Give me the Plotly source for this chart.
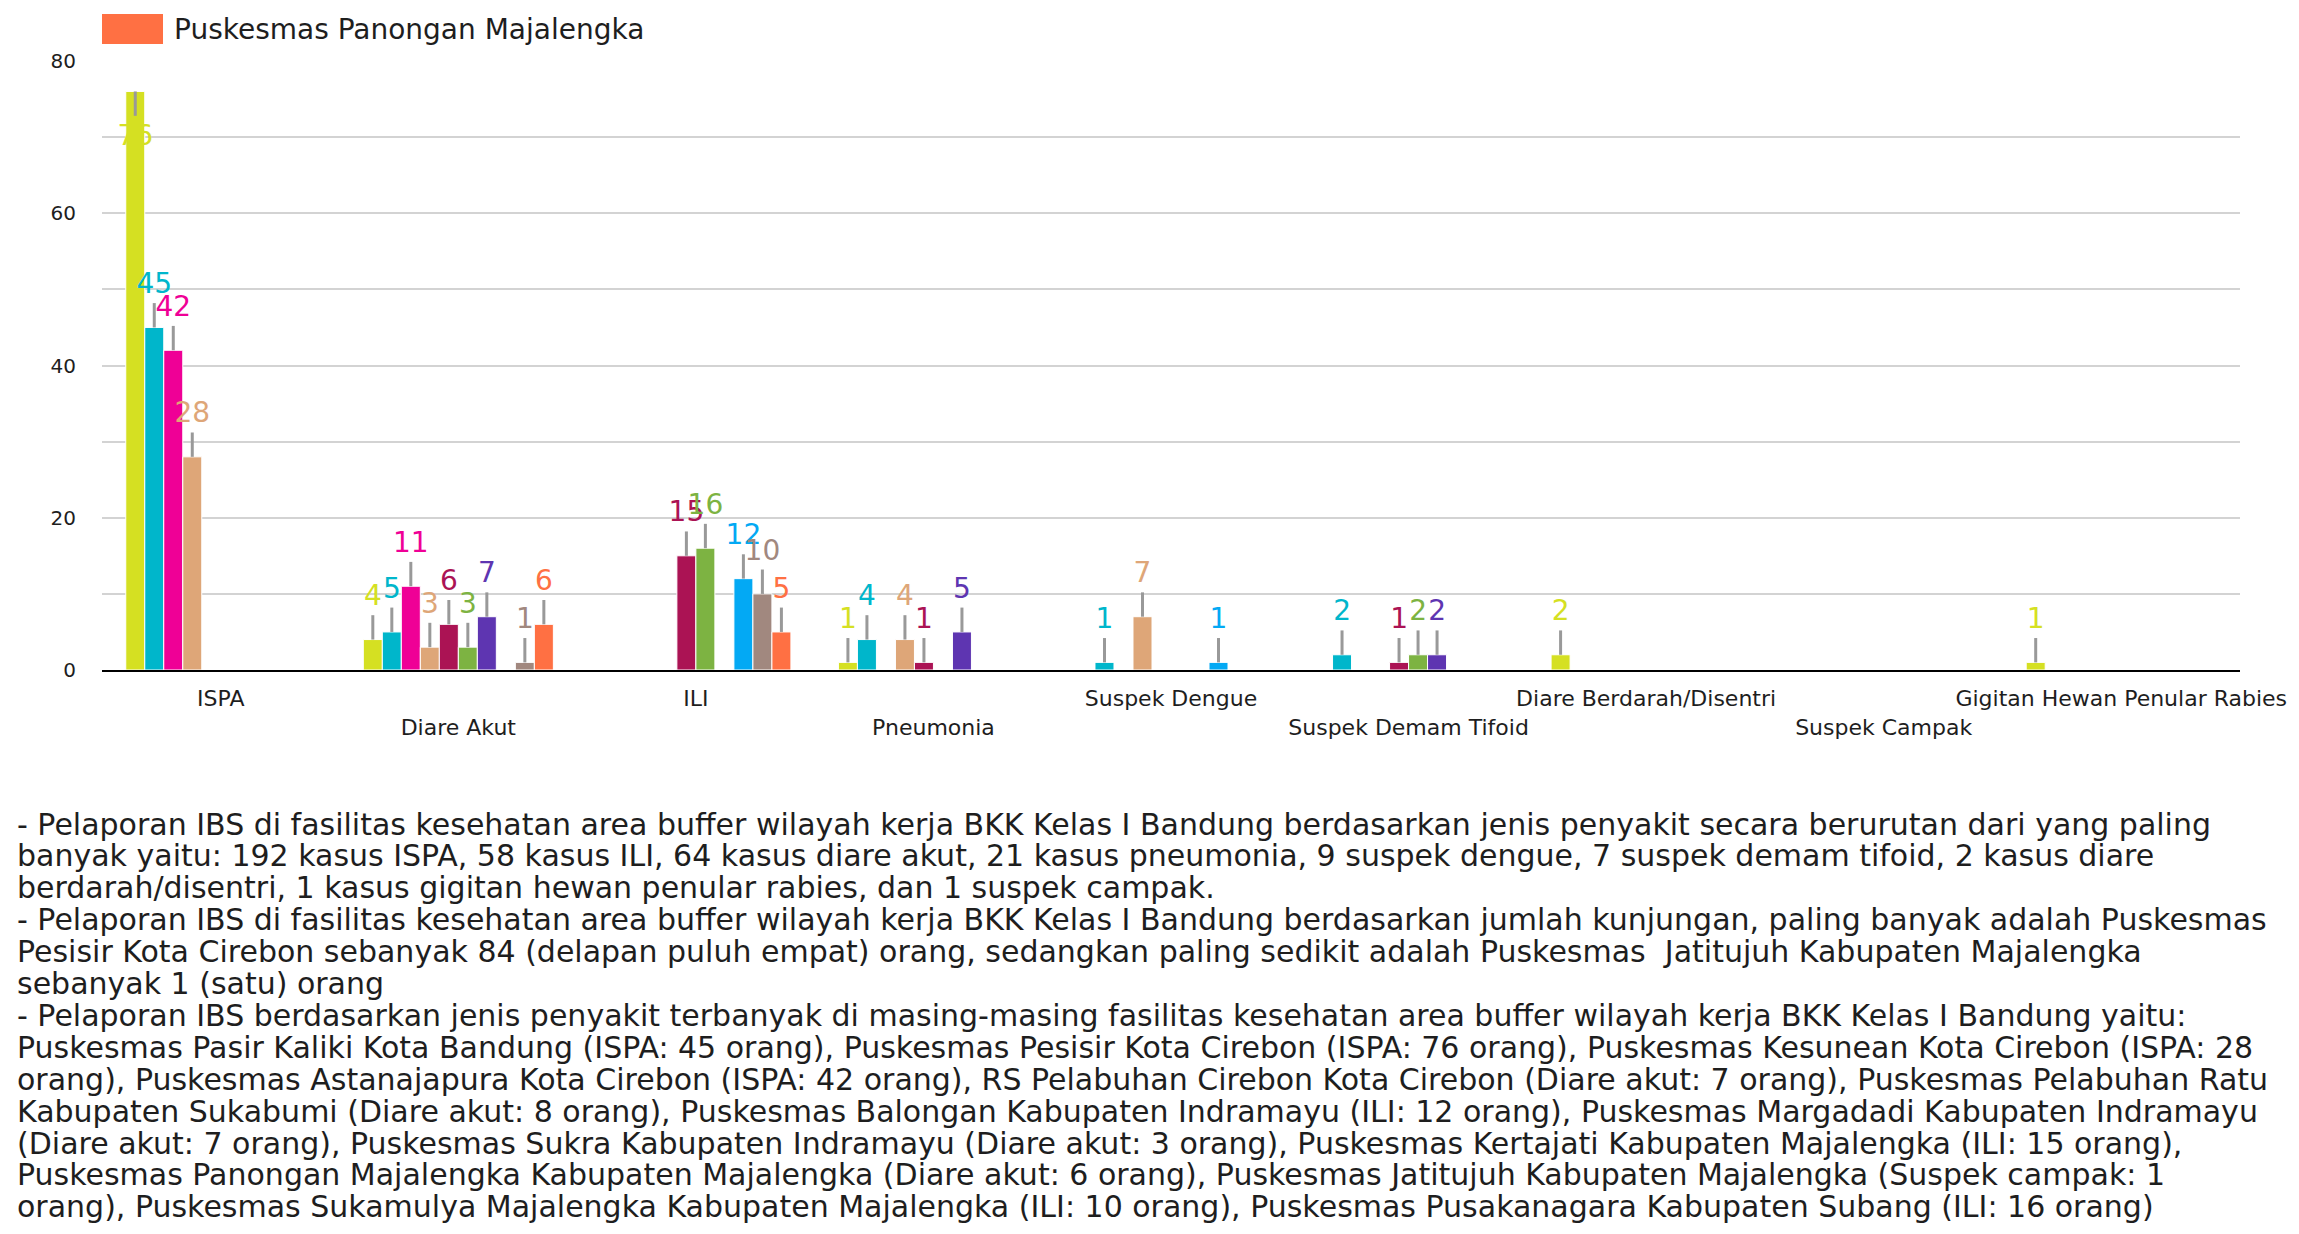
import plotly.graph_objects as go

# ---------------- data ----------------
categories = [
    "ISPA", "Diare Akut", "ILI", "Pneumonia", "Suspek Dengue",
    "Suspek Demam Tifoid", "Diare Berdarah/Disentri", "Suspek Campak",
    "Gigitan Hewan Penular Rabies",
]

series_names = [
    "Puskesmas Pesisir Kota Cirebon",
    "Puskesmas Pasir Kaliki Kota Bandung",
    "Puskesmas Astanajapura Kota Cirebon",
    "Puskesmas Kesunean Kota Cirebon",
    "Puskesmas Kertajati Kabupaten Majalengka",
    "Puskesmas Pusakanagara Kabupaten Subang",
    "RS Pelabuhan Cirebon Kota Cirebon",
    "Puskesmas Balongan Kabupaten Indramayu",
    "Puskesmas Sukamulya Majalengka",
    "Puskesmas Panongan Majalengka",
]

pesisir      = [76, 4, 0, 1, 0, 0, 2, 0, 1]
pasir_kaliki = [45, 5, 0, 4, 1, 2, 0, 0, 0]
astanajapura = [42, 11, 0, 0, 0, 0, 0, 0, 0]
kesunean     = [28, 3, 0, 4, 7, 0, 0, 0, 0]
kertajati    = [0, 6, 15, 1, 0, 1, 0, 0, 0]
pusakanagara = [0, 3, 16, 0, 0, 2, 0, 0, 0]
rs_pelabuhan = [0, 7, 0, 5, 0, 2, 0, 0, 0]
balongan     = [0, 0, 12, 0, 1, 0, 0, 0, 0]
sukamulya    = [0, 1, 10, 0, 0, 0, 0, 0, 0]
panongan     = [0, 6, 5, 0, 0, 0, 0, 0, 0]

series_values = [pesisir, pasir_kaliki, astanajapura, kesunean, kertajati,
                 pusakanagara, rs_pelabuhan, balongan, sukamulya, panongan]

series_colors = ["#d5e022", "#00b6cb", "#ef0096", "#dea678", "#ab1354",
                 "#7db342", "#5e35b1", "#03a9f4", "#a1887f", "#ff7043"]

y_ticks = [0, 20, 40, 60, 80]

legend_label = "Puskesmas Panongan Majalengka"

notes = [
    "- Pelaporan IBS di fasilitas kesehatan area buffer wilayah kerja BKK Kelas I Bandung berdasarkan jenis penyakit secara berurutan dari yang paling",
    "banyak yaitu: 192 kasus ISPA, 58 kasus ILI, 64 kasus diare akut, 21 kasus pneumonia, 9 suspek dengue, 7 suspek demam tifoid, 2 kasus diare",
    "berdarah/disentri, 1 kasus gigitan hewan penular rabies, dan 1 suspek campak.",
    "- Pelaporan IBS di fasilitas kesehatan area buffer wilayah kerja BKK Kelas I Bandung berdasarkan jumlah kunjungan, paling banyak adalah Puskesmas",
    "Pesisir Kota Cirebon sebanyak 84 (delapan puluh empat) orang, sedangkan paling sedikit adalah Puskesmas  Jatitujuh Kabupaten Majalengka",
    "sebanyak 1 (satu) orang",
    "- Pelaporan IBS berdasarkan jenis penyakit terbanyak di masing-masing fasilitas kesehatan area buffer wilayah kerja BKK Kelas I Bandung yaitu:",
    "Puskesmas Pasir Kaliki Kota Bandung (ISPA: 45 orang), Puskesmas Pesisir Kota Cirebon (ISPA: 76 orang), Puskesmas Kesunean Kota Cirebon (ISPA: 28",
    "orang), Puskesmas Astanajapura Kota Cirebon (ISPA: 42 orang), RS Pelabuhan Cirebon Kota Cirebon (Diare akut: 7 orang), Puskesmas Pelabuhan Ratu",
    "Kabupaten Sukabumi (Diare akut: 8 orang), Puskesmas Balongan Kabupaten Indramayu (ILI: 12 orang), Puskesmas Margadadi Kabupaten Indramayu",
    "(Diare akut: 7 orang), Puskesmas Sukra Kabupaten Indramayu (Diare akut: 3 orang), Puskesmas Kertajati Kabupaten Majalengka (ILI: 15 orang),",
    "Puskesmas Panongan Majalengka Kabupaten Majalengka (Diare akut: 6 orang), Puskesmas Jatitujuh Kabupaten Majalengka (Suspek campak: 1",
    "orang), Puskesmas Sukamulya Majalengka Kabupaten Majalengka (ILI: 10 orang), Puskesmas Pusakanagara Kabupaten Subang (ILI: 16 orang)",
]

# ---------------- style / layout constants ----------------
FONT = "DejaVu Sans"
TEXT_COLOR = "#1e1e1e"
W, H = 2299, 1234
PL, PR, PT, PB = 102, 2240, 61, 670          # plot area in pixels
Y_MAX = 80
LEAD = 3.2                                    # leader line length (data units)
LABEL_ROOM = 4.0


def paper_x(px):
    return (px - PL) / (PR - PL)


def paper_y(py):
    return (PB - py) / (PB - PT)


fig = go.Figure()

for i, (name, vals, col) in enumerate(zip(series_names, series_values, series_colors)):
    yv = [v if v else None for v in vals]
    flip = [bool(v) and (v + LEAD + LABEL_ROOM > Y_MAX) for v in vals]
    up = [0 if f else LEAD for f in flip]
    down = [LEAD if f else 0 for f in flip]
    fig.add_trace(go.Bar(
        name=name, x=categories, y=yv, offsetgroup=str(i),
        marker=dict(color=col, line=dict(color="white", width=1)),
        error_y=dict(type="data", symmetric=False, array=up, arrayminus=down,
                     color="#999999", thickness=3, width=0),
        showlegend=False, hovertemplate="%{x}: %{y}<extra>" + name + "</extra>",
    ))
    # invisible carrier bar that places the value label past the leader line
    fig.add_trace(go.Bar(
        x=categories,
        y=[(-LEAD if f else LEAD) if v else None for v, f in zip(vals, flip)],
        base=[v if v else None for v in vals],
        offsetgroup=str(i),
        marker=dict(color="rgba(0,0,0,0)", line=dict(width=0)),
        text=[str(v) if v else "" for v in vals],
        textposition="outside", constraintext="none", cliponaxis=False,
        textfont=dict(color=col, size=28, family=FONT),
        showlegend=False, hoverinfo="skip",
    ))

ticktext = [("<br>" + c) if k % 2 else c for k, c in enumerate(categories)]

fig.update_layout(
    width=W, height=H,
    margin=dict(l=PL, r=W - PR, t=PT, b=H - PB, pad=0),
    paper_bgcolor="white", plot_bgcolor="white",
    barmode="group", bargap=0.2, bargroupgap=0,
    font=dict(family=FONT, color=TEXT_COLOR),
    showlegend=False,
    xaxis=dict(
        type="category", tickvals=categories, ticktext=ticktext, tickangle=0,
        tickfont=dict(size=22, family=FONT, color=TEXT_COLOR),
        showline=True, linecolor="black", linewidth=2,
        showgrid=False, ticks="", ticklabelstandoff=8, fixedrange=True,
    ),
    yaxis=dict(
        range=[0, Y_MAX], tickvals=y_ticks,
        tickfont=dict(size=20, family=FONT, color=TEXT_COLOR),
        showgrid=True, gridcolor="#d3d3d3", gridwidth=2,
        minor=dict(dtick=10, showgrid=True, gridcolor="#d3d3d3", gridwidth=2),
        zeroline=False, showline=False, ticks="", ticklabelstandoff=25,
        fixedrange=True,
    ),
)

# legend (only the visible page item of the original legend)
fig.add_shape(type="rect", xref="paper", yref="paper",
              x0=paper_x(102), x1=paper_x(163), y0=paper_y(44), y1=paper_y(14),
              fillcolor=series_colors[-1], line=dict(width=0))
fig.add_annotation(xref="paper", yref="paper", x=paper_x(172), y=paper_y(29),
                   xanchor="left", yanchor="middle", showarrow=False,
                   text=legend_label, font=dict(size=28, family=FONT, color=TEXT_COLOR))

# description paragraph
for k, line in enumerate(notes):
    fig.add_annotation(xref="paper", yref="paper", x=paper_x(15), y=paper_y(824 + 31.9 * k),
                       xanchor="left", yanchor="middle", showarrow=False,
                       text=line, font=dict(size=30, family=FONT, color=TEXT_COLOR))

fig.write_html("out.html", config={"displayModeBar": False},
               post_script="document.body.style.margin='0';")
